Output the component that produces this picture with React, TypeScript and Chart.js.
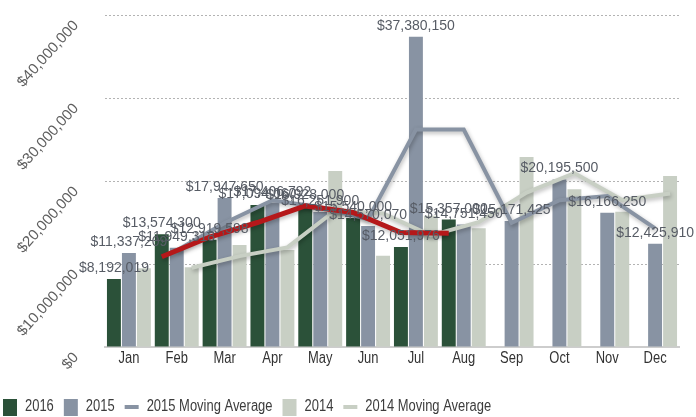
import React, { useEffect, useRef } from "react";
import { Chart, registerables } from "chart.js";

Chart.register(...registerables);

const months = ["Jan", "Feb", "Mar", "Apr", "May", "Jun", "Jul", "Aug", "Sep", "Oct", "Nov", "Dec"];
const sales2016 = [8192019, 13574300, 12919598, 17094060, 16928000, 15540000, 12051976, 15357000, null, null, null, null];
const sales2015 = [11337209, 11949318, 17947650, 17406792, 16251900, 14570070, 37380150, 14751450, 15171425, 20195500, 16166250, 12425910];
const sales2014 = [9500000, 9600000, 12300000, 11700000, 21200000, 11000000, 15800000, 14300000, 22900000, 19000000, 16300000, 20600000];
const movingAvg2016 = [null, 10880000, 13250000, 15000000, 17000000, 16200000, 13800000, 13700000, null, null, null, null];
const movingAvg2015 = [null, 11640000, 14950000, 17680000, 16830000, 15410000, 26200000, 26200000, 14960000, 17680000, 18180000, 14300000];
const movingAvg2014 = [null, 9550000, 10950000, 12000000, 16450000, 16100000, 13450000, 15050000, 18600000, 20950000, 17700000, 18500000];
const yTicks = [0, 10000000, 20000000, 30000000, 40000000];

const C2016 = "#2b5139";
const C2015 = "#8893a3";
const C2014 = "#c8cfc4";
const CRED = "#b5181a";

const CAT_PCT = 0.94;
const BAR_PCT = 0.93;
const SHIFT = CAT_PCT / 3;

const REGULAR = '"Liberation Sans", Arial, Helvetica, sans-serif';
const NARROW_SCALE = 0.81;

const fmt = (v: number) => "$" + v.toLocaleString("en-US");

export default function App() {
  const ref = useRef<HTMLCanvasElement | null>(null);

  useEffect(() => {
    document.body.style.margin = "0";
    document.body.style.overflow = "hidden";
    const canvas = ref.current;
    if (!canvas) return;

    const lineStyle = {
      id: "lineStyle",
      beforeDatasetDraw(chart: any, args: any) {
        if (args.meta.type === "line") {
          const ctx = chart.ctx;
          const ds = chart.data.datasets[args.index];
          const xs = chart.scales.x;
          const catW = xs.width / months.length;
          ctx.save();
          ctx.translate((ds.groupShift || 0) * catW, 0);
          ctx.shadowColor = "rgba(0,0,0,0.28)";
          ctx.shadowBlur = 4;
          ctx.shadowOffsetX = 1;
          ctx.shadowOffsetY = 2;
        }
      },
      afterDatasetDraw(chart: any, args: any) {
        if (args.meta.type === "line") chart.ctx.restore();
      },
    };

    const valueLabels = {
      id: "valueLabels",
      afterDatasetsDraw(chart: any) {
        const ctx = chart.ctx;
        ctx.save();
        ctx.font = "14px " + REGULAR;
        ctx.fillStyle = "#575c65";
        ctx.textAlign = "center";
        ctx.textBaseline = "alphabetic";
        [0, 1].forEach((di) => {
          const meta = chart.getDatasetMeta(di);
          const data = chart.data.datasets[di].data;
          meta.data.forEach((el: any, i: number) => {
            const v = data[i];
            if (v == null) return;
            ctx.fillText(fmt(v), el.x, el.y - 7);
          });
        });
        ctx.restore();
      },
    };

    const legendItems = [
      { text: "2016", color: C2016, line: false },
      { text: "2015", color: C2015, line: false },
      { text: "2015 Moving Average", color: C2015, line: true },
      { text: "2014", color: C2014, line: false },
      { text: "2014 Moving Average", color: C2014, line: true },
    ];

    const axisText = {
      id: "axisText",
      afterDraw(chart: any) {
        const ctx = chart.ctx;
        const ys = chart.scales.y;
        const xs = chart.scales.x;
        const area = chart.chartArea;
        // y labels (rotated)
        ctx.save();
        ctx.font = "15px " + REGULAR;
        ctx.fillStyle = "#5e5e5e";
        ctx.textAlign = "right";
        ctx.textBaseline = "middle";
        yTicks.forEach((v) => {
          const y = ys.getPixelForValue(v);
          ctx.save();
          ctx.translate(area.left - 29, y + 8);
          ctx.rotate((-48 * Math.PI) / 180);
          ctx.fillText(fmt(v), 0, 0);
          ctx.restore();
        });
        ctx.restore();

        // x labels (condensed)
        ctx.save();
        ctx.font = "16px " + REGULAR;
        ctx.fillStyle = "#333";
        ctx.textAlign = "center";
        ctx.textBaseline = "middle";
        months.forEach((m, i) => {
          const x = xs.getPixelForValue(i);
          ctx.save();
          ctx.translate(x, area.bottom + 12);
          ctx.scale(NARROW_SCALE, 1);
          ctx.fillText(m, 0, 0);
          ctx.restore();
        });
        ctx.restore();

        // legend
        ctx.save();
        ctx.font = "16px " + REGULAR;
        ctx.fillStyle = "#3c3c3c";
        ctx.textAlign = "left";
        ctx.textBaseline = "middle";
        const cy = chart.height - 10;
        let x = 3;
        legendItems.forEach((it) => {
          if (it.line) {
            ctx.strokeStyle = it.color;
            ctx.lineWidth = 4;
            ctx.beginPath();
            ctx.moveTo(x, cy);
            ctx.lineTo(x + 14, cy);
            ctx.stroke();
          } else {
            ctx.fillStyle = it.color;
            ctx.fillRect(x, cy - 8, 14, 17);
          }
          x += 14 + 8;
          ctx.fillStyle = "#3c3c3c";
          ctx.save();
          ctx.translate(x, cy);
          ctx.scale(NARROW_SCALE, 1);
          ctx.fillText(it.text, 0, 0);
          ctx.restore();
          x += ctx.measureText(it.text).width * NARROW_SCALE + 10;
        });
        ctx.restore();
      },
    };

    const chart = new Chart(canvas, {
      type: "bar",
      data: {
        labels: months,
        datasets: [
          { type: "bar", label: "2016", data: sales2016 as any, backgroundColor: C2016, order: 5, barPercentage: BAR_PCT, categoryPercentage: CAT_PCT },
          { type: "bar", label: "2015", data: sales2015 as any, backgroundColor: C2015, order: 5, barPercentage: BAR_PCT, categoryPercentage: CAT_PCT },
          {
            type: "line", label: "2015 Moving Average", data: movingAvg2015 as any, groupShift: 0,
            borderColor: C2015, backgroundColor: C2015, borderWidth: 4, pointRadius: 0, tension: 0, order: 2,
          },
          { type: "bar", label: "2014", data: sales2014 as any, backgroundColor: C2014, order: 5, barPercentage: BAR_PCT, categoryPercentage: CAT_PCT },
          {
            type: "line", label: "2014 Moving Average", data: movingAvg2014 as any, groupShift: SHIFT,
            borderColor: C2014, backgroundColor: C2014, borderWidth: 4, pointRadius: 0, tension: 0, order: 3,
          },
          {
            type: "line", label: "2016 Moving Average", data: movingAvg2016 as any, groupShift: -SHIFT,
            borderColor: CRED, backgroundColor: CRED, borderWidth: 5, pointRadius: 0, tension: 0, order: 1,
          },
        ],
      },
      options: {
        responsive: true,
        maintainAspectRatio: false,
        animation: false,
        layout: { padding: { top: 15, right: 17, bottom: 0, left: 0 } },
        scales: {
          x: {
            type: "category",
            offset: true,
            grid: { display: false, drawTicks: false },
            border: { display: true, color: "#cdcdcd", width: 2 },
            ticks: { display: false },
            afterFit: (s: any) => { s.height = 70; },
          },
          y: {
            min: 0,
            max: 40000000,
            ticks: { display: false, stepSize: 10000000 },
            grid: {
              drawTicks: false,
              color: (c: any) => (c.tick && c.tick.value === 0 ? "rgba(0,0,0,0)" : "#b3b3b3"),
              lineWidth: 1,
            },
            border: { display: false, dash: [2, 2] },
            afterFit: (s: any) => { s.width = 105; },
          },
        },
        plugins: {
          tooltip: { enabled: false },
          legend: { display: false },
        },
      },
      plugins: [lineStyle, valueLabels, axisText],
    } as any);

    return () => chart.destroy();
  }, []);

  return (
    <div style={{ position: "relative", width: 696, height: 417 }}>
      <canvas ref={ref} />
    </div>
  );
}
